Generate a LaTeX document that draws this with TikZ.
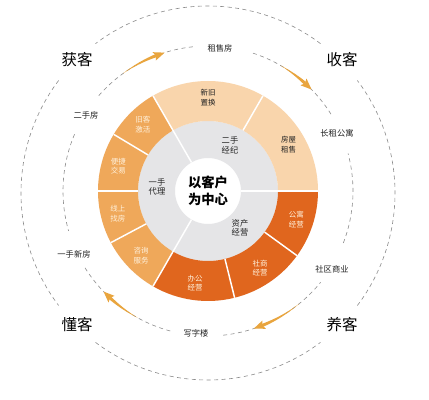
\documentclass[tikz,border=0pt]{standalone}
\usepackage{fontspec}
\setmainfont{Noto Sans CJK SC}
\definecolor{peach}{HTML}{F9D5AC}
\definecolor{midor}{HTML}{EFA85A}
\definecolor{darkor}{HTML}{E0661E}
\definecolor{ringgray}{HTML}{E5E5E7}
\definecolor{arrowc}{HTML}{E9A53E}
\definecolor{dashgray}{HTML}{8C8C8C}
\definecolor{lighttext}{HTML}{FFF1DC}
\definecolor{darktext}{HTML}{222222}
\begin{document}
\begin{tikzpicture}[x=0.75pt,y=0.75pt,
  dashring/.style={draw=dashgray,line width=0.45pt,dash pattern=on 3pt off 2.6pt},
  sepline/.style={draw=white,line width=1.1pt},
  segdark/.style={font=\fontsize{5.6}{7.3}\selectfont,align=center,text=darktext,inner sep=0pt},
  seglight/.style={font=\fontsize{5.6}{7.3}\selectfont,align=center,text=lighttext,inner sep=0pt},
  graylbl/.style={font=\fontsize{6.2}{7.2}\selectfont,align=center,text=darktext,inner sep=0pt},
  smalllbl/.style={font=\fontsize{6.2}{7.2}\selectfont,text=darktext,inner sep=0pt},
  cornerlbl/.style={font=\fontsize{11.6}{13}\selectfont,text=black,inner sep=0pt},
  centerlbl/.style={font=\fontsize{10}{12.6}\selectfont\bfseries,align=center,text=black,inner sep=0pt}]
\useasboundingbox (0,0) rectangle (429,400);
\fill[white] (0,0) rectangle (429,400);
\newcommand\ringseg[3]{\fill[#3] (#1:70) arc[start angle=#1,end angle=#2,radius=70] -- (#2:110) arc[start angle=#2,end angle=#1,radius=110] -- cycle;}
\newcommand\ringarrow[2]{%
  \fill[arrowc] plot[domain=#1:#2,samples=24] (\x:{145+1.6*(#1-\x)/(#1-#2)}) -- plot[domain=#2:#1,samples=24] (\x:{145-1.6*(#1-\x)/(#1-#2)}) -- cycle;
  \fill[arrowc] ({#2-3.6}:145) -- ({#2+0.8}:149.5) -- (#2:145) -- ({#2+0.8}:140.5) -- cycle;}
\begin{scope}[shift={(208,209)}]
  % gray ring
  \fill[ringgray,even odd rule] (0,0) circle[radius=70] (0,0) circle[radius=33];
  % outer segments
  \ringseg{0}{60}{peach}
  \ringseg{60}{120}{peach}
  \ringseg{120}{149}{midor}
  \ringseg{149}{180}{midor}
  \ringseg{180}{208}{midor}
  \ringseg{208}{240}{midor}
  \ringseg{240}{284}{darkor}
  \ringseg{284}{324}{darkor}
  \ringseg{324}{360}{darkor}
  % separators
  \foreach \a in {0,120,240} \draw[sepline] (\a:33) -- (\a:110);
  \foreach \a in {60,149,180,208,284,324} \draw[sepline] (\a:70) -- (\a:110);
  % inner dashed circle
  \foreach \s/\e in {32/73,96/139,157/196,212/255,276/321,339/375}
    \draw[dashring] (\s:145) arc[start angle=\s,end angle=\e,radius=145];
  % arrows
  \ringarrow{126}{111}
  \ringarrow{60}{48}
  \ringarrow{309}{292}
  \ringarrow{241}{227.5}
  % segment texts
  \node[segdark] (xjzh) at (90:93) {新旧\\置换};
  \node[segdark] (fwzs) at (30:93) {房屋\\租售};
  \node[seglight] (gyjy) at (-18:93) {公寓\\经营};
  \node[seglight] (ssjy) at (-56:93) {社商\\经营};
  \node[seglight] (bgjy) at (-98:93) {办公\\经营};
  \node[seglight] (zxfw) at (224:93) {咨询\\服务};
  \node[seglight] (xszf) at (194:93) {线上\\找房};
  \node[seglight] (bjjy) at (164.5:93) {便捷\\交易};
  \node[seglight] (jkjh) at (134.5:93) {旧客\\激活};
  % center
  \node[centerlbl] (center) at (0,0) {以客户\\为中心};
\end{scope}
\begin{scope}[shift={(208,207)}]
  \foreach \s/\e in {53/127,143/217,233/307,323/397}
    \draw[dashring] (\s:187) arc[start angle=\s,end angle=\e,radius=187];
\end{scope}
% gray ring texts
\node[graylbl] (esjj) at (230,255) {二手\\经纪};
\node[graylbl] (ysdl) at (157,213) {一手\\代理};
\node[graylbl] (zcjy) at (240,172) {资产\\经营};
% inner circle labels
\node[smalllbl] (zsf) at (220,352) {租售房};
\node[smalllbl] (czgy) at (337,267) {长租公寓};
\node[smalllbl] (sqsy) at (332,131) {社区商业};
\node[smalllbl] (xzl) at (196,67) {写字楼};
\node[smalllbl] (ysxf) at (74,146) {一手新房};
\node[smalllbl] (esf) at (86,285) {二手房};
% corner labels
\node[cornerlbl] (huoke) at (77,340) {获客};
\node[cornerlbl] (shouke) at (342,340) {收客};
\node[cornerlbl] (dongke) at (77,75) {懂客};
\node[cornerlbl] (yangke) at (342,75) {养客};
\end{tikzpicture}
\end{document}
